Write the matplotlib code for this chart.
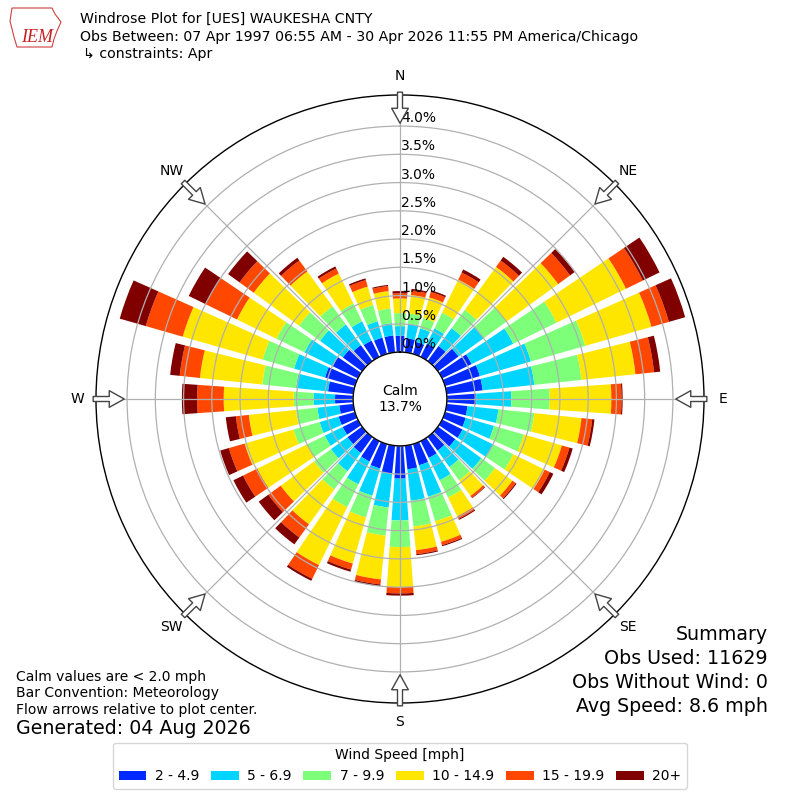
import numpy as np
import matplotlib
matplotlib.use('Agg')
import matplotlib.pyplot as plt
from matplotlib import transforms
from matplotlib.patches import Polygon

# percent of obs per 10 degree sector, by speed bin
directions = np.arange(0, 360, 10)
spd_2 = [0.29, 0.25, 0.22, 0.26, 0.33, 0.45, 0.58, 0.64, 0.64, 0.52, 0.37, 0.38,
         0.40, 0.38, 0.30, 0.33, 0.39, 0.42, 0.58, 0.50, 0.45, 0.40, 0.35, 0.32,
         0.30, 0.30, 0.25, 0.32, 0.45, 0.55, 0.50, 0.42, 0.35, 0.32, 0.30, 0.30]
spd_5 = [0.17, 0.26, 0.25, 0.30, 0.39, 0.55, 0.82, 0.94, 0.92, 0.62, 0.55, 0.52,
         0.60, 0.57, 0.36, 0.44, 0.58, 0.56, 0.74, 0.60, 0.50, 0.45, 0.40, 0.36,
         0.35, 0.35, 0.39, 0.38, 0.57, 0.57, 0.55, 0.50, 0.45, 0.38, 0.30, 0.22]
spd_7 = [0.23, 0.18, 0.19, 0.31, 0.40, 0.50, 0.85, 1.00, 0.84, 0.68, 0.64, 0.55,
         0.40, 0.30, 0.29, 0.34, 0.45, 0.46, 0.47, 0.50, 0.40, 0.45, 0.40, 0.37,
         0.35, 0.48, 0.38, 0.35, 0.60, 0.58, 0.55, 0.46, 0.40, 0.35, 0.30, 0.26]
spd_10 = [0.26, 0.33, 0.38, 0.65, 0.94, 1.13, 1.37, 1.22, 0.96, 1.09, 0.84, 0.70,
          0.62, 0.38, 0.34, 0.37, 0.38, 0.42, 0.71, 0.78, 0.85, 1.14, 0.76, 0.73,
          0.98, 0.90, 0.84, 1.24, 1.11, 1.47, 0.78, 0.99, 0.76, 0.59, 0.34, 0.31]
spd_15 = [0.09, 0.08, 0.10, 0.14, 0.14, 0.26, 0.33, 0.32, 0.33, 0.18, 0.19, 0.14,
          0.10, 0.07, 0.04, 0.05, 0.06, 0.07, 0.11, 0.09, 0.11, 0.27, 0.29, 0.27,
          0.28, 0.29, 0.23, 0.47, 0.36, 0.68, 0.61, 0.31, 0.24, 0.10, 0.12, 0.09]
spd_20 = [0.04, 0.03, 0.03, 0.06, 0.08, 0.10, 0.33, 0.30, 0.11, 0.02, 0.04, 0.06,
          0.07, 0.02, 0.01, 0.02, 0.02, 0.02, 0.04, 0.03, 0.04, 0.04, 0.15, 0.21,
          0.19, 0.16, 0.18, 0.27, 0.17, 0.48, 0.34, 0.25, 0.06, 0.04, 0.03, 0.02]
bin_labels = ['2 - 4.9', '5 - 6.9', '7 - 9.9', '10 - 14.9', '15 - 19.9', '20+']
calm_pct = 13.7
rticks = np.arange(0, 4.01, 0.5)

series = [spd_2, spd_5, spd_7, spd_10, spd_15, spd_20]
colors = plt.cm.jet(np.arange(1, 7) / 6.0)

fig = plt.figure(figsize=(8, 8), dpi=100)
ax = fig.add_axes([0.12, 0.12125, 0.76, 0.76], projection='polar')
ax.set_theta_zero_location('N')
ax.set_theta_direction(-1)
ax.set_rorigin(-0.83)
ax.set_ylim(0, 4.55)

theta = np.radians(directions)
width = np.radians(8)
bottom = np.zeros(len(directions))
handles = []
for vals, c, lab in zip(series, colors, bin_labels):
    b = ax.bar(theta, vals, width=width, bottom=bottom, color=c, linewidth=0, label=lab)
    handles.append(b)
    bottom = bottom + np.array(vals)

ax.set_yticks(rticks)
ax.set_yticklabels([])
ax.set_xticks(np.radians(np.arange(0, 360, 45)))
ax.set_xticklabels([])
ax.grid(color='#b0b0b0', lw=0.9)
ax.spines['polar'].set_linewidth(1.0)
ax.spines['inner'].set_linewidth(1.0)

off = transforms.offset_copy(ax.transData, fig=fig, x=1, y=8, units='dots')
for r in rticks:
    ax.text(0, r, '%.1f%%' % r, transform=off, ha='left', va='center', fontsize=10)

names = ['N', 'NE', 'E', 'SE', 'S', 'SW', 'W', 'NW']
for i, name in enumerate(names):
    t = np.radians(i * 45)
    ax.annotate('', xy=(t, 4.05), xytext=(t, 4.6),
                arrowprops=dict(arrowstyle='simple,head_length=0.9,head_width=1.0,tail_width=0.3',
                                fc='white', ec='#444444', lw=1, shrinkA=0, shrinkB=0,
                                mutation_scale=12),
                annotation_clip=False)
    ax.text(t, 4.88, name, ha='center', va='center', fontsize=10, clip_on=False)

ax.text(0.5, 0.5, 'Calm\n%.1f%%' % calm_pct, transform=ax.transAxes,
        ha='center', va='center', fontsize=10)

# header
logo = Polygon(np.array([[12, 8], [52, 8], [55, 14], [61, 22], [57, 31], [54, 39],
                         [52, 47], [17, 47], [14, 37], [10, 21]]) / 800.0 * [1, -1] + [0, 1],
               closed=True, fill=False, ec='#d04040', lw=0.8, transform=fig.transFigure)
fig.add_artist(logo)
fig.text(37 / 800, 1 - 38 / 800, 'IEM', color='#c82020', style='italic',
         family='Liberation Serif', fontsize=13, ha='center', va='center')
fig.text(80 / 800, 1 - 19 / 800, 'Windrose Plot for [UES] WAUKESHA CNTY', fontsize=10.15, va='center')
fig.text(80 / 800, 1 - 37 / 800,
         'Obs Between: 07 Apr 1997 06:55 AM - 30 Apr 2026 11:55 PM America/Chicago',
         fontsize=10.15, va='center')
fig.text(83 / 800, 1 - 54 / 800, '\u21b3 constraints: Apr', fontsize=10.15, va='center')

# footers
fig.text(16 / 800, 1 - 677 / 800, 'Calm values are < 2.0 mph', fontsize=10, va='center')
fig.text(16 / 800, 1 - 693 / 800, 'Bar Convention: Meteorology', fontsize=10, va='center')
fig.text(16 / 800, 1 - 710 / 800, 'Flow arrows relative to plot center.', fontsize=10, va='center')
fig.text(16 / 800, 1 - 729 / 800, 'Generated: 04 Aug 2026', fontsize=13.7, va='center')

summary = ['Summary', 'Obs Used: 11629', 'Obs Without Wind: 0', 'Avg Speed: 8.6 mph']
for i, s in enumerate(summary):
    fig.text(768 / 800, 1 - (635 + 23.7 * i) / 800, s, fontsize=13.7, ha='right', va='center')

fig.legend(handles=handles, loc='center', bbox_to_anchor=(0.5, 0.043), ncol=6,
           title='Wind Speed [mph]', fontsize=10, title_fontsize=10,
           handlelength=2.0, handleheight=0.65, handletextpad=0.6, columnspacing=0.85)

fig.savefig('out.png', dpi=100)
